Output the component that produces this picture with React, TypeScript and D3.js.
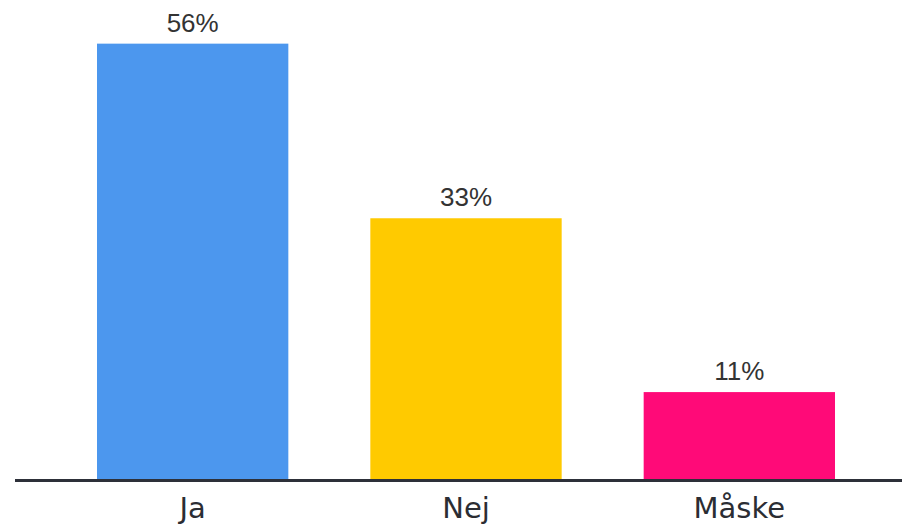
import React from "react";
import * as d3 from "d3";

const categories = ["Ja", "Nej", "Måske"];
const values = [55.6, 33.3, 11.1];
const colors = ["#4c97ee", "#ffca00", "#ff0a78"];

const W = 902;
const H = 527;
const baseY = 479;

export default function App() {
  const x = d3.scaleBand<string>().domain(categories).range([15, 917]).padding(0.3);
  const y = d3.scaleLinear().domain([0, 60]).range([baseY, baseY - 60 * 7.83]);
  return (
    <svg width={W} height={H} style={{ position: "absolute", left: 0, top: 0, background: "#fff" }}>
      {categories.map((c, i) => (
        <g key={c}>
          <rect x={x(c)} y={y(values[i])} width={x.bandwidth()} height={baseY - y(values[i])} fill={colors[i]} />
          <text
            x={(x(c) as number) + x.bandwidth() / 2}
            y={y(values[i]) - 12}
            textAnchor="middle"
            fontFamily="'Liberation Sans', Arial, sans-serif"
            fontSize={26}
            fill="#333"
          >
            {Math.round(values[i]) + "%"}
          </text>
          <text
            x={(x(c) as number) + x.bandwidth() / 2}
            y={518}
            textAnchor="middle"
            fontFamily="'DejaVu Sans', sans-serif"
            fontSize={29}
            fill="#2b2d33"
          >
            {c}
          </text>
        </g>
      ))}
      <line x1={15} x2={W} y1={480.5} y2={480.5} stroke="#2d3039" strokeWidth={3} />
    </svg>
  );
}
